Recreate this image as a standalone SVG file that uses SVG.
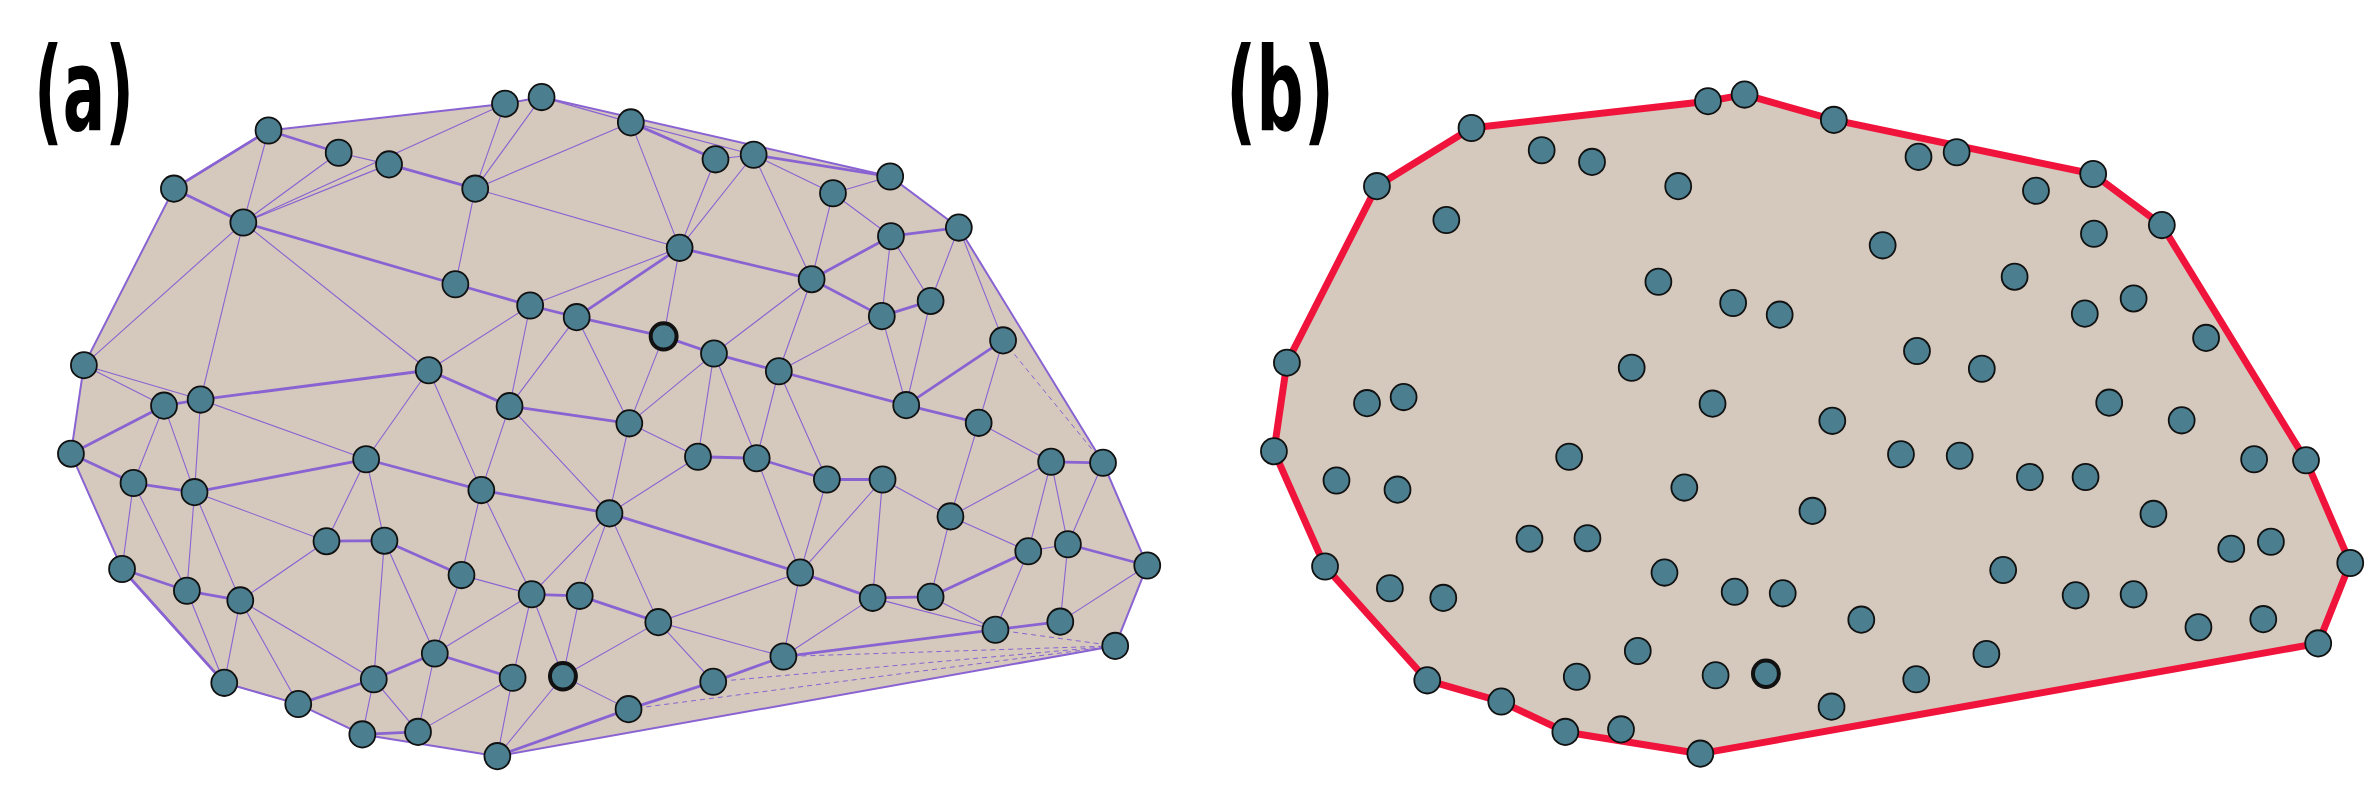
<svg xmlns="http://www.w3.org/2000/svg" width="2379" height="789" viewBox="0 0 2379 789">
<style>
.hull{fill:#d5c9bd;stroke:#8a63d2;stroke-width:2;vector-effect:non-scaling-stroke}
.thin{fill:none;stroke:#8a63d2;stroke-width:1.1;vector-effect:non-scaling-stroke}
.thick{fill:none;stroke:#8a63d2;stroke-width:2.8;vector-effect:non-scaling-stroke}
.dot{fill:none;stroke:#8a63d2;stroke-width:1;stroke-dasharray:5 4;vector-effect:non-scaling-stroke}
.n{fill:#4b7f90;stroke:#111;stroke-width:1.8}
.n.s{stroke-width:4}
.red{fill:#d5c9bd;stroke:#f0143c;stroke-width:7;stroke-linejoin:round;vector-effect:non-scaling-stroke}
.lbl{font-family:"DejaVu Sans",sans-serif;font-weight:bold;font-size:115px;fill:#000}
</style>
<defs>
<ellipse id="c" rx="17" ry="26" vector-effect="non-scaling-stroke"/>
</defs>
<text class="lbl" x="34" y="130" textLength="100" lengthAdjust="spacingAndGlyphs">(a)</text>
<text class="lbl" x="1226" y="130" textLength="108" lengthAdjust="spacingAndGlyphs">(b)</text>

<g id="panelA" transform="scale(0.7628,0.5058)">
<polygon class="hull" points="352,258 662,205 710,192 1167,349 1257,450 1446,915 1504,1118 1462,1277 652,1495 475,1452 391,1392 294,1350 160,1125 93,897 110,722 228,373"/>
<g id="connectors">
<path class="thin" d="M444 302L510 325M352 258L319 440M444 302L319 440M510 325L319 440M662 205L319 440M662 205L623 373M710 192L623 373M623 373L597 562M623 373L891 490M623 373L827 242M827 242L891 490M710 192L827 242M827 242L988 306M938 315L988 306M988 306L1092 382M1167 349L1092 382M1092 382L1168 467M891 490L938 315M891 490L988 306M988 306L1064 552M1092 382L1064 552M1168 467L1156 625M1168 467L1220 595M1257 450L1220 595M1257 450L1315 673M1064 552L936 699M1064 552L1021 734M891 490L695 604M891 490L870 665M319 440L562 732M319 440L110 722M319 440L263 790M695 604L562 732M695 604L668 803M756 627L668 803M756 627L825 837M870 665L825 837M936 699L825 837M1021 734L1156 625M1156 625L1188 801M1220 595L1188 801M1315 673L1283 836M1021 734L1084 948M1021 734L992 906M936 699L915 903M936 699L992 906M825 837L915 903M110 722L263 790M110 722L215 802M263 790L255 973M215 802L175 955M215 802L255 973M263 790L480 908M562 732L480 908M562 732L631 969M668 803L631 969M668 803L799 1015M825 837L799 1015M799 1015L915 903M1084 948L1049 1132M992 906L1049 1132M1157 948L1049 1132M1157 948L1246 1021M1157 948L1144 1182M1283 836L1378 913M1283 836L1246 1021M1246 1021L1378 913M1246 1021L1348 1090M1246 1021L1220 1180M1378 913L1348 1090M1378 913L1400 1076M1446 915L1400 1076M1348 1090L1400 1076M1348 1090L1305 1245M1400 1076L1390 1229M1504 1118L1390 1229M1220 1180L1305 1245M1144 1182L1305 1245M1049 1132L863 1230M1049 1132L1027 1298M799 1015L863 1230M799 1015L697 1175M799 1015L760 1178M631 969L605 1137M631 969L697 1175M480 908L428 1070M480 908L504 1069M255 973L428 1070M255 973L315 1187M175 955L160 1125M175 955L245 1168M255 973L245 1168M315 1187L428 1070M504 1069L570 1292M504 1069L490 1343M315 1187L294 1350M315 1187L391 1392M315 1187L490 1343M245 1168L294 1350M605 1137L697 1175M605 1137L570 1292M697 1175L570 1292M697 1175L672 1340M697 1175L738 1337M760 1178L738 1337M863 1230L738 1337M863 1230L935 1348M863 1230L1027 1298M1027 1298L1144 1182M738 1337L824 1402M738 1337L652 1495M672 1340L652 1495M490 1343L475 1452M490 1343L548 1447M570 1292L548 1447M672 1340L548 1447M294 1350L391 1392"/>
<path class="thick" d="M352 258L444 302M510 325L623 373M228 373L319 440M319 440L597 562M827 242L938 315M988 306L1167 349M1168 467L1257 450M891 490L1064 552M1168 467L1064 552M1064 552L1156 625M1156 625L1220 595M891 490L756 627M597 562L695 604M695 604L756 627M756 627L870 665M870 665L936 699M936 699L1021 734M1021 734L1188 801M1315 673L1188 801M1188 801L1283 836M825 837L668 803M668 803L562 732M562 732L263 790M263 790L215 802M215 802L93 897M93 897L175 955M175 955L255 973M255 973L480 908M480 908L631 969M631 969L799 1015M915 903L992 906M992 906L1084 948M1084 948L1157 948M1378 913L1446 915M1400 1076L1504 1118M1348 1090L1220 1180M1305 1245L1390 1229M1144 1182L1220 1180M1049 1132L1144 1182M1049 1132L799 1015M160 1125L245 1168M245 1168L315 1187M428 1070L504 1069M504 1069L605 1137M697 1175L760 1178M760 1178L863 1230M1027 1298L1305 1245M1027 1298L935 1348M935 1348L824 1402M672 1340L570 1292M570 1292L490 1343M490 1343L391 1392M548 1447L475 1452M824 1402L652 1495M352 258L228 373M160 1125L294 1350"/>
<path class="dot" d="M1315 673L1446 915M1305 1245L1462 1277M1027 1298L1462 1277M935 1348L1462 1277M824 1402L1462 1277"/>
</g>
<g id="nodesA">
<g id="a1" class="n"><use href="#c" x="662" y="205"/></g>
<g id="a2" class="n"><use href="#c" x="710" y="192"/></g>
<g id="a3" class="n"><use href="#c" x="352" y="258"/></g>
<g id="a4" class="n"><use href="#c" x="444" y="302"/></g>
<g id="a5" class="n"><use href="#c" x="510" y="325"/></g>
<g id="a6" class="n"><use href="#c" x="827" y="242"/></g>
<g id="a7" class="n"><use href="#c" x="938" y="315"/></g>
<g id="a8" class="n"><use href="#c" x="988" y="306"/></g>
<g id="a9" class="n"><use href="#c" x="1167" y="349"/></g>
<g id="a10" class="n"><use href="#c" x="1092" y="382"/></g>
<g id="a11" class="n"><use href="#c" x="228" y="373"/></g>
<g id="a12" class="n"><use href="#c" x="623" y="373"/></g>
<g id="a13" class="n"><use href="#c" x="319" y="440"/></g>
<g id="a14" class="n"><use href="#c" x="891" y="490"/></g>
<g id="a15" class="n"><use href="#c" x="1168" y="467"/></g>
<g id="a16" class="n"><use href="#c" x="1257" y="450"/></g>
<g id="a17" class="n"><use href="#c" x="597" y="562"/></g>
<g id="a18" class="n"><use href="#c" x="695" y="604"/></g>
<g id="a19" class="n"><use href="#c" x="756" y="627"/></g>
<g id="a20" class="n s"><use href="#c" x="870" y="665"/></g>
<g id="a21" class="n"><use href="#c" x="1064" y="552"/></g>
<g id="a22" class="n"><use href="#c" x="1156" y="625"/></g>
<g id="a23" class="n"><use href="#c" x="1220" y="595"/></g>
<g id="a24" class="n"><use href="#c" x="1315" y="673"/></g>
<g id="a25" class="n"><use href="#c" x="110" y="722"/></g>
<g id="a26" class="n"><use href="#c" x="562" y="732"/></g>
<g id="a27" class="n"><use href="#c" x="936" y="699"/></g>
<g id="a28" class="n"><use href="#c" x="1021" y="734"/></g>
<g id="a29" class="n"><use href="#c" x="215" y="802"/></g>
<g id="a30" class="n"><use href="#c" x="263" y="790"/></g>
<g id="a31" class="n"><use href="#c" x="668" y="803"/></g>
<g id="a32" class="n"><use href="#c" x="825" y="837"/></g>
<g id="a33" class="n"><use href="#c" x="1188" y="801"/></g>
<g id="a34" class="n"><use href="#c" x="1283" y="836"/></g>
<g id="a35" class="n"><use href="#c" x="93" y="897"/></g>
<g id="a36" class="n"><use href="#c" x="480" y="908"/></g>
<g id="a37" class="n"><use href="#c" x="915" y="903"/></g>
<g id="a38" class="n"><use href="#c" x="992" y="906"/></g>
<g id="a39" class="n"><use href="#c" x="1084" y="948"/></g>
<g id="a40" class="n"><use href="#c" x="1157" y="948"/></g>
<g id="a41" class="n"><use href="#c" x="1378" y="913"/></g>
<g id="a42" class="n"><use href="#c" x="1446" y="915"/></g>
<g id="a43" class="n"><use href="#c" x="175" y="955"/></g>
<g id="a44" class="n"><use href="#c" x="255" y="973"/></g>
<g id="a45" class="n"><use href="#c" x="631" y="969"/></g>
<g id="a46" class="n"><use href="#c" x="799" y="1015"/></g>
<g id="a47" class="n"><use href="#c" x="1246" y="1021"/></g>
<g id="a48" class="n"><use href="#c" x="428" y="1070"/></g>
<g id="a49" class="n"><use href="#c" x="504" y="1069"/></g>
<g id="a50" class="n"><use href="#c" x="1348" y="1090"/></g>
<g id="a51" class="n"><use href="#c" x="1400" y="1076"/></g>
<g id="a52" class="n"><use href="#c" x="1504" y="1118"/></g>
<g id="a53" class="n"><use href="#c" x="160" y="1125"/></g>
<g id="a54" class="n"><use href="#c" x="245" y="1168"/></g>
<g id="a55" class="n"><use href="#c" x="315" y="1187"/></g>
<g id="a56" class="n"><use href="#c" x="605" y="1137"/></g>
<g id="a57" class="n"><use href="#c" x="697" y="1175"/></g>
<g id="a58" class="n"><use href="#c" x="760" y="1178"/></g>
<g id="a59" class="n"><use href="#c" x="1049" y="1132"/></g>
<g id="a60" class="n"><use href="#c" x="1144" y="1182"/></g>
<g id="a61" class="n"><use href="#c" x="1220" y="1180"/></g>
<g id="a62" class="n"><use href="#c" x="863" y="1230"/></g>
<g id="a63" class="n"><use href="#c" x="1305" y="1245"/></g>
<g id="a64" class="n"><use href="#c" x="1390" y="1229"/></g>
<g id="a65" class="n"><use href="#c" x="1462" y="1277"/></g>
<g id="a66" class="n"><use href="#c" x="570" y="1292"/></g>
<g id="a67" class="n"><use href="#c" x="1027" y="1298"/></g>
<g id="a68" class="n"><use href="#c" x="294" y="1350"/></g>
<g id="a69" class="n"><use href="#c" x="490" y="1343"/></g>
<g id="a70" class="n"><use href="#c" x="672" y="1340"/></g>
<g id="a71" class="n s"><use href="#c" x="738" y="1337"/></g>
<g id="a72" class="n"><use href="#c" x="935" y="1348"/></g>
<g id="a73" class="n"><use href="#c" x="391" y="1392"/></g>
<g id="a74" class="n"><use href="#c" x="824" y="1402"/></g>
<g id="a75" class="n"><use href="#c" x="475" y="1452"/></g>
<g id="a76" class="n"><use href="#c" x="548" y="1447"/></g>
<g id="a77" class="n"><use href="#c" x="652" y="1495"/></g>
</g>
</g>

<g id="panelB" transform="translate(1203,-2.5) scale(0.7628,0.5058)">
<polygon class="red" points="352,258 662,205 710,192 827,242 1167,349 1257,450 1446,915 1504,1118 1462,1277 652,1495 475,1452 391,1392 294,1350 160,1125 93,897 110,722 228,373"/>
<g id="nodesB">
<g id="b1" class="n"><use href="#c" x="662" y="205"/></g>
<g id="b2" class="n"><use href="#c" x="710" y="192"/></g>
<g id="b3" class="n"><use href="#c" x="352" y="258"/></g>
<g id="b4" class="n"><use href="#c" x="444" y="302"/></g>
<g id="b5" class="n"><use href="#c" x="510" y="325"/></g>
<g id="b6" class="n"><use href="#c" x="827" y="242"/></g>
<g id="b7" class="n"><use href="#c" x="938" y="315"/></g>
<g id="b8" class="n"><use href="#c" x="988" y="306"/></g>
<g id="b9" class="n"><use href="#c" x="1167" y="349"/></g>
<g id="b10" class="n"><use href="#c" x="1092" y="382"/></g>
<g id="b11" class="n"><use href="#c" x="228" y="373"/></g>
<g id="b12" class="n"><use href="#c" x="623" y="373"/></g>
<g id="b13" class="n"><use href="#c" x="319" y="440"/></g>
<g id="b14" class="n"><use href="#c" x="891" y="490"/></g>
<g id="b15" class="n"><use href="#c" x="1168" y="467"/></g>
<g id="b16" class="n"><use href="#c" x="1257" y="450"/></g>
<g id="b17" class="n"><use href="#c" x="597" y="562"/></g>
<g id="b18" class="n"><use href="#c" x="695" y="604"/></g>
<g id="b19" class="n"><use href="#c" x="756" y="627"/></g>
<g id="b21" class="n"><use href="#c" x="1064" y="552"/></g>
<g id="b22" class="n"><use href="#c" x="1156" y="625"/></g>
<g id="b23" class="n"><use href="#c" x="1220" y="595"/></g>
<g id="b24" class="n"><use href="#c" x="1315" y="673"/></g>
<g id="b25" class="n"><use href="#c" x="110" y="722"/></g>
<g id="b26" class="n"><use href="#c" x="562" y="732"/></g>
<g id="b27" class="n"><use href="#c" x="936" y="699"/></g>
<g id="b28" class="n"><use href="#c" x="1021" y="734"/></g>
<g id="b29" class="n"><use href="#c" x="215" y="802"/></g>
<g id="b30" class="n"><use href="#c" x="263" y="790"/></g>
<g id="b31" class="n"><use href="#c" x="668" y="803"/></g>
<g id="b32" class="n"><use href="#c" x="825" y="837"/></g>
<g id="b33" class="n"><use href="#c" x="1188" y="801"/></g>
<g id="b34" class="n"><use href="#c" x="1283" y="836"/></g>
<g id="b35" class="n"><use href="#c" x="93" y="897"/></g>
<g id="b36" class="n"><use href="#c" x="480" y="908"/></g>
<g id="b37" class="n"><use href="#c" x="915" y="903"/></g>
<g id="b38" class="n"><use href="#c" x="992" y="906"/></g>
<g id="b39" class="n"><use href="#c" x="1084" y="948"/></g>
<g id="b40" class="n"><use href="#c" x="1157" y="948"/></g>
<g id="b41" class="n"><use href="#c" x="1378" y="913"/></g>
<g id="b42" class="n"><use href="#c" x="1446" y="915"/></g>
<g id="b43" class="n"><use href="#c" x="175" y="955"/></g>
<g id="b44" class="n"><use href="#c" x="255" y="973"/></g>
<g id="b45" class="n"><use href="#c" x="631" y="969"/></g>
<g id="b46" class="n"><use href="#c" x="799" y="1015"/></g>
<g id="b47" class="n"><use href="#c" x="1246" y="1021"/></g>
<g id="b48" class="n"><use href="#c" x="428" y="1070"/></g>
<g id="b49" class="n"><use href="#c" x="504" y="1069"/></g>
<g id="b50" class="n"><use href="#c" x="1348" y="1090"/></g>
<g id="b51" class="n"><use href="#c" x="1400" y="1076"/></g>
<g id="b52" class="n"><use href="#c" x="1504" y="1118"/></g>
<g id="b53" class="n"><use href="#c" x="160" y="1125"/></g>
<g id="b54" class="n"><use href="#c" x="245" y="1168"/></g>
<g id="b55" class="n"><use href="#c" x="315" y="1187"/></g>
<g id="b56" class="n"><use href="#c" x="605" y="1137"/></g>
<g id="b57" class="n"><use href="#c" x="697" y="1175"/></g>
<g id="b58" class="n"><use href="#c" x="760" y="1178"/></g>
<g id="b59" class="n"><use href="#c" x="1049" y="1132"/></g>
<g id="b60" class="n"><use href="#c" x="1144" y="1182"/></g>
<g id="b61" class="n"><use href="#c" x="1220" y="1180"/></g>
<g id="b62" class="n"><use href="#c" x="863" y="1230"/></g>
<g id="b63" class="n"><use href="#c" x="1305" y="1245"/></g>
<g id="b64" class="n"><use href="#c" x="1390" y="1229"/></g>
<g id="b65" class="n"><use href="#c" x="1462" y="1277"/></g>
<g id="b66" class="n"><use href="#c" x="570" y="1292"/></g>
<g id="b67" class="n"><use href="#c" x="1027" y="1298"/></g>
<g id="b68" class="n"><use href="#c" x="294" y="1350"/></g>
<g id="b69" class="n"><use href="#c" x="490" y="1343"/></g>
<g id="b70" class="n"><use href="#c" x="672" y="1340"/></g>
<g id="b71" class="n s"><use href="#c" x="738" y="1337"/></g>
<g id="b72" class="n"><use href="#c" x="935" y="1348"/></g>
<g id="b73" class="n"><use href="#c" x="391" y="1392"/></g>
<g id="b74" class="n"><use href="#c" x="824" y="1402"/></g>
<g id="b75" class="n"><use href="#c" x="475" y="1452"/></g>
<g id="b76" class="n"><use href="#c" x="548" y="1447"/></g>
<g id="b77" class="n"><use href="#c" x="652" y="1495"/></g>
</g>
</g>
</svg>
